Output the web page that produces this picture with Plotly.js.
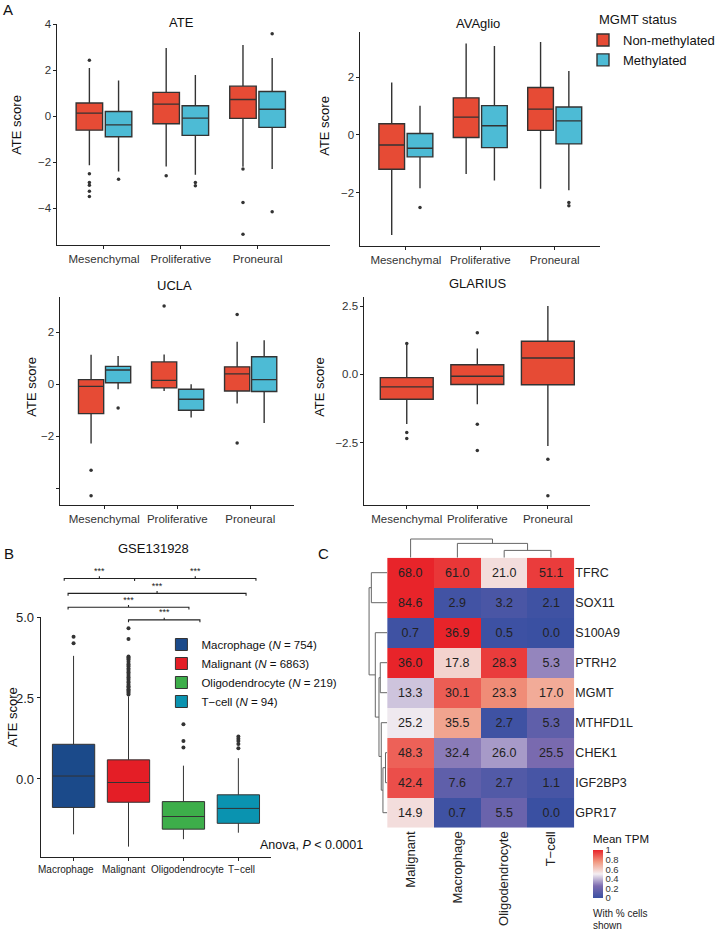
<!DOCTYPE html>
<html><head><meta charset="utf-8">
<script src="https://cdn.plot.ly/plotly-3.0.1.min.js"></script>
<style>html,body{margin:0;padding:0;background:#fff}#chart{width:720px;height:932px}</style>
</head><body><div id="chart"></div>
<script>
// ================= DATA =================
const SUBTYPES = ['Mesenchymal', 'Proliferative', 'Proneural'];
const MGMT_GROUPS = ['Non-methylated', 'Methylated'];
// box stats per subtype: [lower whisker, Q1, median, Q3, upper whisker]
const ATE_NON = [[-2.14, -0.61, 0.13, 0.57, 2.09], [-2.19, -0.33, 0.52, 1.03, 2.96], [-2.2, -0.10, 0.72, 1.30, 3.09]];
const ATE_MET = [[-2.41, -0.90, -0.38, 0.20, 1.55], [-2.55, -0.84, -0.09, 0.45, 1.78], [-2.30, -0.49, 0.30, 1.07, 2.52]];
const ATE_NON_OUT = [[2.42, -2.51, -2.88, -3.0, -3.26, -3.49], [-2.59], [-2.3, -3.75, -5.13]];
const ATE_MET_OUT = [[-2.74], [-2.88, -3.03], [3.58, -4.16]];

const AVAGLIO_NON = [[-3.48, -1.19, -0.35, 0.39, 1.82], [-1.36, -0.09, 0.62, 1.29, 3.18], [-1.87, 0.16, 0.90, 1.65, 3.23]];
const AVAGLIO_MET = [[-1.85, -0.76, -0.46, 0.05, 1.02], [-1.58, -0.44, 0.32, 1.02, 3.09], [-1.92, -0.31, 0.49, 0.97, 2.22]];
const AVAGLIO_NON_OUT = [[], [], []];
const AVAGLIO_MET_OUT = [[-2.52], [], [-2.35, -2.46]];

const UCLA_NON = [[-2.28, -1.13, -0.08, 0.18, 1.14], [-0.26, -0.14, 0.15, 0.86, 1.15], [-0.74, -0.26, 0.40, 0.67, 1.64]];
const UCLA_MET = [[-0.19, 0.06, 0.55, 0.69, 1.09], [-1.28, -1.0, -0.58, -0.19, 0.0], [-1.49, -0.28, 0.18, 1.06, 1.69]];
const UCLA_NON_OUT = [[-3.31, -4.29], [3.01], [2.69, -2.26]];
const UCLA_MET_OUT = [[-0.91], [], []];

const GLARIUS_NON = [[-1.82, -0.91, -0.46, -0.12, 1.07], [-1.09, -0.37, -0.07, 0.35, 0.95], [-2.62, -0.38, 0.60, 1.21, 2.5]];
const GLARIUS_NON_OUT = [[1.13, -2.13, -2.35], [1.52, -1.83, -2.79], [-3.11, -4.44]];

// Panel B (GSE131928)
const CELL_TYPES = ['Macrophage', 'Malignant', 'Oligodendrocyte', 'T\u2212cell'];
const CELL_N = [754, 6863, 219, 94];
const CELL_STATS = [[-1.71, -0.88, 0.09, 1.07, 3.8], [-2.09, -0.72, -0.11, 0.59, 2.55], [-1.86, -1.55, -1.16, -0.70, 0.41], [-1.66, -1.37, -0.91, -0.49, 0.64]];
const CELL_OUT = [
  [4.39, 4.19],
  [4.65, 4.32, 3.78, 3.75, 3.71, 3.68, 3.62, 3.55, 3.52, 3.47, 3.41, 3.36, 3.3, 3.27, 3.21, 3.15, 3.12, 3.06, 3.0, 2.97, 2.91, 2.86, 2.82, 2.77, 2.73, 2.69, 2.65, 2.61],
  [1.69, 1.17, 0.97],
  [1.31, 1.24, 1.17, 1.08, 0.95]
];
// x-label centres (data units) as spread out in the original
const CELL_LABEL_POS = [0.87, 1.92, 3.08, 4.05];
const BRACKET_X1 = [0.83, 2.11, 0.9, 0.9, 2.0];
const BRACKET_X2 = [2.11, 4.32, 4.14, 3.1, 3.3];
const BRACKET_Y = [6.19, 6.19, 5.73, 5.30, 4.91];
const BRACKET_LABEL = ['***', '***', '***', '***', '***'];

// Panel C heatmap
const GENES = ['TFRC', 'SOX11', 'S100A9', 'PTRH2', 'MGMT', 'MTHFD1L', 'CHEK1', 'IGF2BP3', 'GPR17'];
const HM_CELLS = ['Malignant', 'Macrophage', 'Oligodendrocyte', 'T\u2212cell'];
const PCT_CELLS = [
  [68.0, 61.0, 21.0, 51.1],
  [84.6, 2.9, 3.2, 2.1],
  [0.7, 36.9, 0.5, 0.0],
  [36.0, 17.8, 28.3, 5.3],
  [13.3, 30.1, 23.3, 17.0],
  [25.2, 35.5, 2.7, 5.3],
  [48.3, 32.4, 26.0, 25.5],
  [42.4, 7.6, 2.7, 1.1],
  [14.9, 0.7, 5.5, 0.0]
];
const MEAN_TPM = [
  [1.0, 0.96, 0.55, 0.95],
  [1.0, 0.03, 0.06, 0.02],
  [0.02, 1.0, 0.01, 0.0],
  [1.0, 0.58, 0.95, 0.30],
  [0.42, 0.88, 0.78, 0.70],
  [0.49, 0.72, 0.02, 0.14],
  [0.87, 0.28, 0.34, 0.24],
  [0.91, 0.14, 0.09, 0.05],
  [0.55, 0.02, 0.18, 0.0]
];
// hclust-style merges: negative = leaf (1-based), positive = earlier merge; third = height
const COL_MERGE = [[-3, -4, 7.3], [-2, 1, 14.3], [-1, 2, 18.7]];
const ROW_MERGE = [[-7, -8, 1.7], [1, -9, 4.3], [-6, 2, 6.0], [-4, -5, 7.0], [4, 3, 8.3], [-3, 5, 12.0], [-1, -2, 16.0], [7, 6, 18.3]];

// ================= STYLE / LAYOUT HELPERS =================
const W = 720, H = 932;
const FONT = 'Liberation Sans, Arial, Helvetica, sans-serif';
const RED = '#E64B35', BLUE = '#4DBBD5';
const CELL_COLORS = ['#1B4A8A', '#E41E26', '#3DAE4A', '#0A93B0'];
const dom = (a, b) => [a / W, b / W];
const domY = (top, bottom) => [1 - bottom / H, 1 - top / H];

function axStyle(extra) {
  return Object.assign({
    showline: true, linecolor: '#222', linewidth: 1, ticks: 'outside', ticklen: 3,
    tickcolor: '#222', showgrid: false, zeroline: false, fixedrange: true,
    tickfont: { size: 11.5, color: '#333' }, tickangle: 0
  }, extra);
}

function boxTrace(stats, offset, width, color, xa, ya, name, showlegend, legend, lw) {
  return {
    type: 'box', name: name,
    x: stats.map((_, i) => i + 1 + offset),
    lowerfence: stats.map(s => s[0]), q1: stats.map(s => s[1]), median: stats.map(s => s[2]),
    q3: stats.map(s => s[3]), upperfence: stats.map(s => s[4]),
    width: width, fillcolor: color, line: { color: '#333', width: lw || 1.4 },
    whiskerwidth: 0, boxpoints: false, hoverinfo: 'skip',
    xaxis: xa, yaxis: ya, showlegend: !!showlegend, legend: legend || 'legend'
  };
}
function outTrace(outs, offset, xa, ya, size) {
  const x = [], y = [];
  outs.forEach((arr, i) => arr.forEach(v => { x.push(i + 1 + offset); y.push(v); }));
  return { type: 'scatter', mode: 'markers', x, y, marker: { size: size || 3.5, color: '#333' },
    xaxis: xa, yaxis: ya, showlegend: false, hoverinfo: 'skip', cliponaxis: false };
}
function dendro(merges) {
  const pos = [], hgt = [], along = [], height = [];
  merges.forEach(([a, b, h]) => {
    const pa = a < 0 ? -a - 1 : pos[a - 1], ha = a < 0 ? 0 : hgt[a - 1];
    const pb = b < 0 ? -b - 1 : pos[b - 1], hb = b < 0 ? 0 : hgt[b - 1];
    along.push(pa, pa, pb, pb, null); height.push(ha, h, h, hb, null);
    pos.push((pa + pb) / 2); hgt.push(h);
  });
  return { along, height };
}

const OFF = 0.19, BW = 0.345;
const traces = [];
// Panel A
traces.push(boxTrace(ATE_NON, -OFF, BW, RED, 'x', 'y', MGMT_GROUPS[0], true));
traces.push(boxTrace(ATE_MET, OFF, BW, BLUE, 'x', 'y', MGMT_GROUPS[1], true));
traces.push(outTrace(ATE_NON_OUT, -OFF, 'x', 'y'));
traces.push(outTrace(ATE_MET_OUT, OFF, 'x', 'y'));
traces.push(boxTrace(AVAGLIO_NON, -OFF, BW, RED, 'x2', 'y2', MGMT_GROUPS[0], false));
traces.push(boxTrace(AVAGLIO_MET, OFF, BW, BLUE, 'x2', 'y2', MGMT_GROUPS[1], false));
traces.push(outTrace(AVAGLIO_NON_OUT, -OFF, 'x2', 'y2'));
traces.push(outTrace(AVAGLIO_MET_OUT, OFF, 'x2', 'y2'));
traces.push(boxTrace(UCLA_NON, -0.18, BW, RED, 'x3', 'y3', MGMT_GROUPS[0], false));
traces.push(boxTrace(UCLA_MET, 0.19, BW, BLUE, 'x3', 'y3', MGMT_GROUPS[1], false));
traces.push(outTrace(UCLA_NON_OUT, -0.18, 'x3', 'y3'));
traces.push(outTrace(UCLA_MET_OUT, 0.19, 'x3', 'y3'));
traces.push(boxTrace(GLARIUS_NON, 0, 0.75, RED, 'x4', 'y4', MGMT_GROUPS[0], false));
traces.push(outTrace(GLARIUS_NON_OUT, 0, 'x4', 'y4'));

// Panel B
CELL_TYPES.forEach((c, i) => {
  const t = boxTrace([CELL_STATS[i]], i, 0.77, CELL_COLORS[i], 'x5', 'y5',
    c + ' (<i>N</i> = ' + CELL_N[i] + ')', true, 'legend2', 1);
  traces.push(t);
  const o = CELL_OUT.map((arr, j) => j === i ? arr : []);
  traces.push(outTrace(o, 0, 'x5', 'y5', 4));
});
// brackets
(function () {
  const bx = [], by = [], tx = [], ty = [];
  const d = 0.07;
  BRACKET_Y.forEach((y, k) => {
    const x1 = BRACKET_X1[k], x2 = BRACKET_X2[k], xc = (x1 + x2) / 2;
    bx.push(x1, x1, xc, xc, xc, x2, x2, null);
    by.push(y - d, y, y, y + d, y, y, y - d, null);
    tx.push(xc); ty.push(y + d);
  });
  traces.push({ type: 'scatter', mode: 'lines', x: bx, y: by, line: { color: '#222', width: 1.1 },
    xaxis: 'x5', yaxis: 'y6', showlegend: false, hoverinfo: 'skip' });
  traces.push({ type: 'scatter', mode: 'text', x: tx, y: ty, text: BRACKET_LABEL, textposition: 'top center',
    textfont: { size: 9, color: '#222' }, xaxis: 'x5', yaxis: 'y6', showlegend: false, hoverinfo: 'skip', cliponaxis: false });
})();

// Panel C heatmap
traces.push({
  type: 'heatmap', x: [0, 1, 2, 3], y: GENES.map((_, i) => i), z: MEAN_TPM,
  text: PCT_CELLS.map(r => r.map(v => v.toFixed(1))), texttemplate: '%{text}',
  textfont: { size: 12.5, color: '#222' }, zmin: 0, zmax: 1, xgap: 0, ygap: 0,
  colorscale: [[0, '#3A50A2'], [0.25, '#7C6BB0'], [0.5, '#F4EEF2'], [0.75, '#F19A82'], [1, '#E8242A']],
  colorbar: {
    x: 599 / W, xanchor: 'left', y: 1 - 874 / H, yanchor: 'middle', len: 48, lenmode: 'pixels',
    thickness: 10, thicknessmode: 'pixels', outlinewidth: 0, ticks: '', xpad: 0, ypad: 0,
    tickvals: [0, 0.2, 0.4, 0.6, 0.8, 1], ticktext: ['0', '0.2', '0.4', '0.6', '0.8', '1'],
    tickfont: { size: 9.5, color: '#333' }
  },
  xaxis: 'x7', yaxis: 'y7', hoverinfo: 'skip', showlegend: false
});
const cd = dendro(COL_MERGE);
traces.push({ type: 'scatter', mode: 'lines', x: cd.along, y: cd.height, line: { color: '#666', width: 1 },
  xaxis: 'x7', yaxis: 'y8', showlegend: false, hoverinfo: 'skip' });
const rd = dendro(ROW_MERGE);
traces.push({ type: 'scatter', mode: 'lines', x: rd.height, y: rd.along, line: { color: '#666', width: 1 },
  xaxis: 'x8', yaxis: 'y7', showlegend: false, hoverinfo: 'skip' });

// ================= LAYOUT =================
const ann = (text, x, y, o) => Object.assign({ text, x: x / W, y: 1 - y / H, xref: 'paper', yref: 'paper',
  showarrow: false, xanchor: 'center', yanchor: 'middle', font: { size: 13, color: '#111' } }, o || {});

const cellLabels = CELL_TYPES.map((c, i) => ({
  text: c, x: CELL_LABEL_POS[i], xref: 'x5', y: 1 - 869 / H, yref: 'paper', showarrow: false,
  xanchor: 'center', yanchor: 'middle', font: { size: 10, color: '#222' }
}));

const layout = {
  width: W, height: H, margin: { l: 0, r: 0, t: 0, b: 0, pad: 0 },
  paper_bgcolor: '#fff', plot_bgcolor: 'rgba(0,0,0,0)',
  font: { family: FONT, color: '#111' },
  xaxis: axStyle({ domain: dom(58, 333), range: [0.394, 3.94], tickvals: [1, 2, 3], ticktext: SUBTYPES, anchor: 'y' }),
  yaxis: axStyle({ domain: domY(24, 245), range: [-5.6, 4.0], tickvals: [-4, -2, 0, 2, 4], anchor: 'x' }),
  xaxis2: axStyle({ domain: dom(364, 606), range: [0.39, 3.61], tickvals: [1, 2, 3], ticktext: SUBTYPES, anchor: 'y2' }),
  yaxis2: axStyle({ domain: domY(32, 246), range: [-3.86, 3.58], tickvals: [-2, 0, 2], anchor: 'x2' }),
  xaxis3: axStyle({ domain: dom(61, 297), range: [0.4, 3.6], tickvals: [1, 2, 3], ticktext: SUBTYPES, anchor: 'y3' }),
  yaxis3: axStyle({ domain: domY(297, 505), range: [-4.65, 3.36], tickvals: [-4, -2, 0, 2], ticktext: ['', '\u22122', '0', '2'], anchor: 'x3' }),
  xaxis4: axStyle({ domain: dom(368, 596), range: [0.4, 3.6], tickvals: [1, 2, 3], ticktext: SUBTYPES, anchor: 'y4' }),
  yaxis4: axStyle({ domain: domY(297, 505), range: [-4.78, 2.83], tickvals: [-2.5, 0, 2.5], tickformat: '.1f', anchor: 'x4' }),
  xaxis5: axStyle({ domain: dom(41, 274), range: [0.4, 4.6], tickvals: [1, 2, 3, 4], showticklabels: false, anchor: 'y5' }),
  yaxis5: axStyle({ domain: domY(617, 857), range: [-2.41, 5.0], tickvals: [0, 2.5, 5], tickformat: '.1f',
    tickfont: { size: 13, color: '#222' }, anchor: 'x5' }),
  yaxis6: { domain: domY(560, 857), range: [-2.41, 6.76], visible: false, anchor: 'x5', fixedrange: true },
  xaxis7: { domain: dom(391, 580), range: [-0.5, 3.5], anchor: 'y7', tickvals: [0, 1, 2, 3], ticktext: HM_CELLS,
    tickangle: -90, ticks: '', showline: false, showgrid: false, zeroline: false, fixedrange: true,
    tickfont: { size: 13, color: '#222' } },
  yaxis7: { domain: domY(557.7, 827.7), range: [8.5, -0.5], anchor: 'x7', side: 'right', tickvals: GENES.map((_, i) => i),
    ticktext: GENES, ticks: '', showline: false, showgrid: false, zeroline: false, fixedrange: true,
    tickfont: { size: 12.5, color: '#222' } },
  yaxis8: { domain: domY(532, 557.7), range: [0, 25.7], anchor: 'x7', visible: false, fixedrange: true },
  xaxis8: { domain: dom(366, 391), range: [25, 0], anchor: 'y7', visible: false, fixedrange: true },
  legend: { x: 589 / W, xanchor: 'left', y: 1 - 25 / H, yanchor: 'top', font: { size: 13, color: '#111' },
    bgcolor: 'rgba(0,0,0,0)', borderwidth: 0, tracegroupgap: 0 },
  legend2: { x: 163 / W, xanchor: 'left', y: 1 - 630 / H, yanchor: 'top', font: { size: 11.5, color: '#111' },
    bgcolor: 'rgba(0,0,0,0)', borderwidth: 0, tracegroupgap: 0 },
  annotations: [
    ann('A', 8, 10, { font: { size: 15, color: '#111' } }),
    ann('B', 9, 553, { font: { size: 15, color: '#111' } }),
    ann('C', 327, 553, { font: { size: 15, color: '#111' } }),
    ann('ATE', 183, 22), ann('AVAglio', 483, 23), ann('UCLA', 176, 285), ann('GLARIUS', 482, 284),
    ann('GSE131928', 155, 548),
    ann('ATE score', 17, 125, { textangle: -90 }),
    ann('ATE score', 328, 126, { textangle: -90 }),
    ann('ATE score', 31, 387, { textangle: -90 }),
    ann('ATE score', 322, 387, { textangle: -90 }),
    ann('ATE score', 12, 717, { textangle: -90 }),
    ann('MGMT status', 603, 20, { xanchor: 'left' }),
    ann('Anova, <i>P</i> &lt; 0.0001', 369, 845, { xanchor: 'right', font: { size: 12.5, color: '#111' } }),
    ann('Mean TPM', 597, 839, { xanchor: 'left', font: { size: 11.5, color: '#111' } }),
    ann('With % cells', 597, 913, { xanchor: 'left', font: { size: 10, color: '#222' } }),
    ann('shown', 597, 925, { xanchor: 'left', font: { size: 10, color: '#222' } })
  ].concat(cellLabels)
};

Plotly.newPlot('chart', traces, layout, { staticPlot: true, displayModeBar: false });
</script>
</body></html>
